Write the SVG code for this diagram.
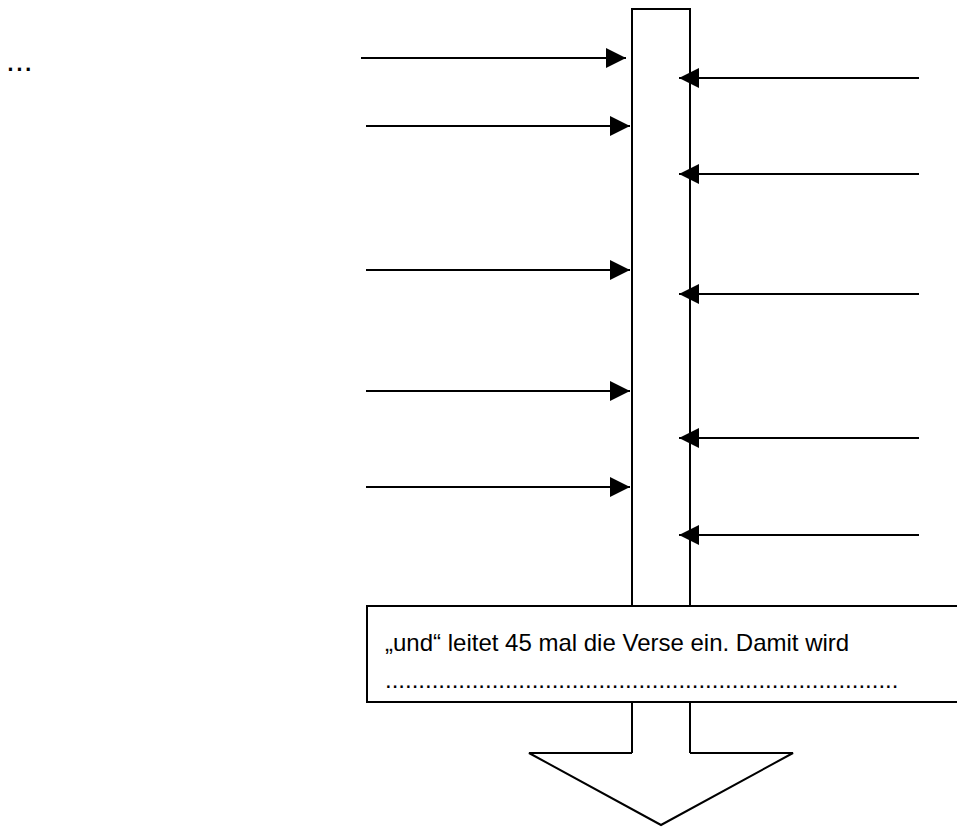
<svg xmlns="http://www.w3.org/2000/svg" width="957" height="827" viewBox="0 0 957 827">
<style>
.ln{stroke:#000;stroke-width:2;fill:none}
.shape{stroke:#000;stroke-width:2;fill:#fff}
.txt{font-family:"Liberation Sans",Arial,sans-serif;font-size:24px;fill:#000}
</style>
<defs>
<marker id="ah" markerUnits="userSpaceOnUse" markerWidth="20" markerHeight="20" refX="20" refY="10" orient="auto">
<path d="M0,0 L20,10 L0,20 z" fill="#000"/>
</marker>
</defs>
<rect width="957" height="827" fill="#fff"/>
<g id="ellipsis"><text class="txt" x="6" y="71" style="font-size:32px">...</text></g>
<g id="column">
<path class="shape" d="M632,753 L632,9 L690,9 L690,753"/>
<path class="shape" d="M632,753 L529,753 L661,825 L793,753 L690,753"/>
</g>
<g id="connectors">
<line class="ln" x1="361" y1="58" x2="626" y2="58" marker-end="url(#ah)"/>
<line class="ln" x1="366" y1="126" x2="630" y2="126" marker-end="url(#ah)"/>
<line class="ln" x1="366" y1="270" x2="630" y2="270" marker-end="url(#ah)"/>
<line class="ln" x1="366" y1="391" x2="630" y2="391" marker-end="url(#ah)"/>
<line class="ln" x1="366" y1="487" x2="630" y2="487" marker-end="url(#ah)"/>
<line class="ln" x1="919" y1="78" x2="679" y2="78" marker-end="url(#ah)"/>
<line class="ln" x1="919" y1="174" x2="679" y2="174" marker-end="url(#ah)"/>
<line class="ln" x1="919" y1="294" x2="679" y2="294" marker-end="url(#ah)"/>
<line class="ln" x1="919" y1="438" x2="679" y2="438" marker-end="url(#ah)"/>
<line class="ln" x1="919" y1="535" x2="679" y2="535" marker-end="url(#ah)"/>
</g>
<g id="textbox">
<rect class="shape" x="367" y="606" width="600" height="96"/>
<text class="txt" x="385" y="651">„und“ leitet 45 mal die Verse ein. Damit wird</text>
<text class="txt" x="385" y="688">.............................................................................</text>
</g>
</svg>
